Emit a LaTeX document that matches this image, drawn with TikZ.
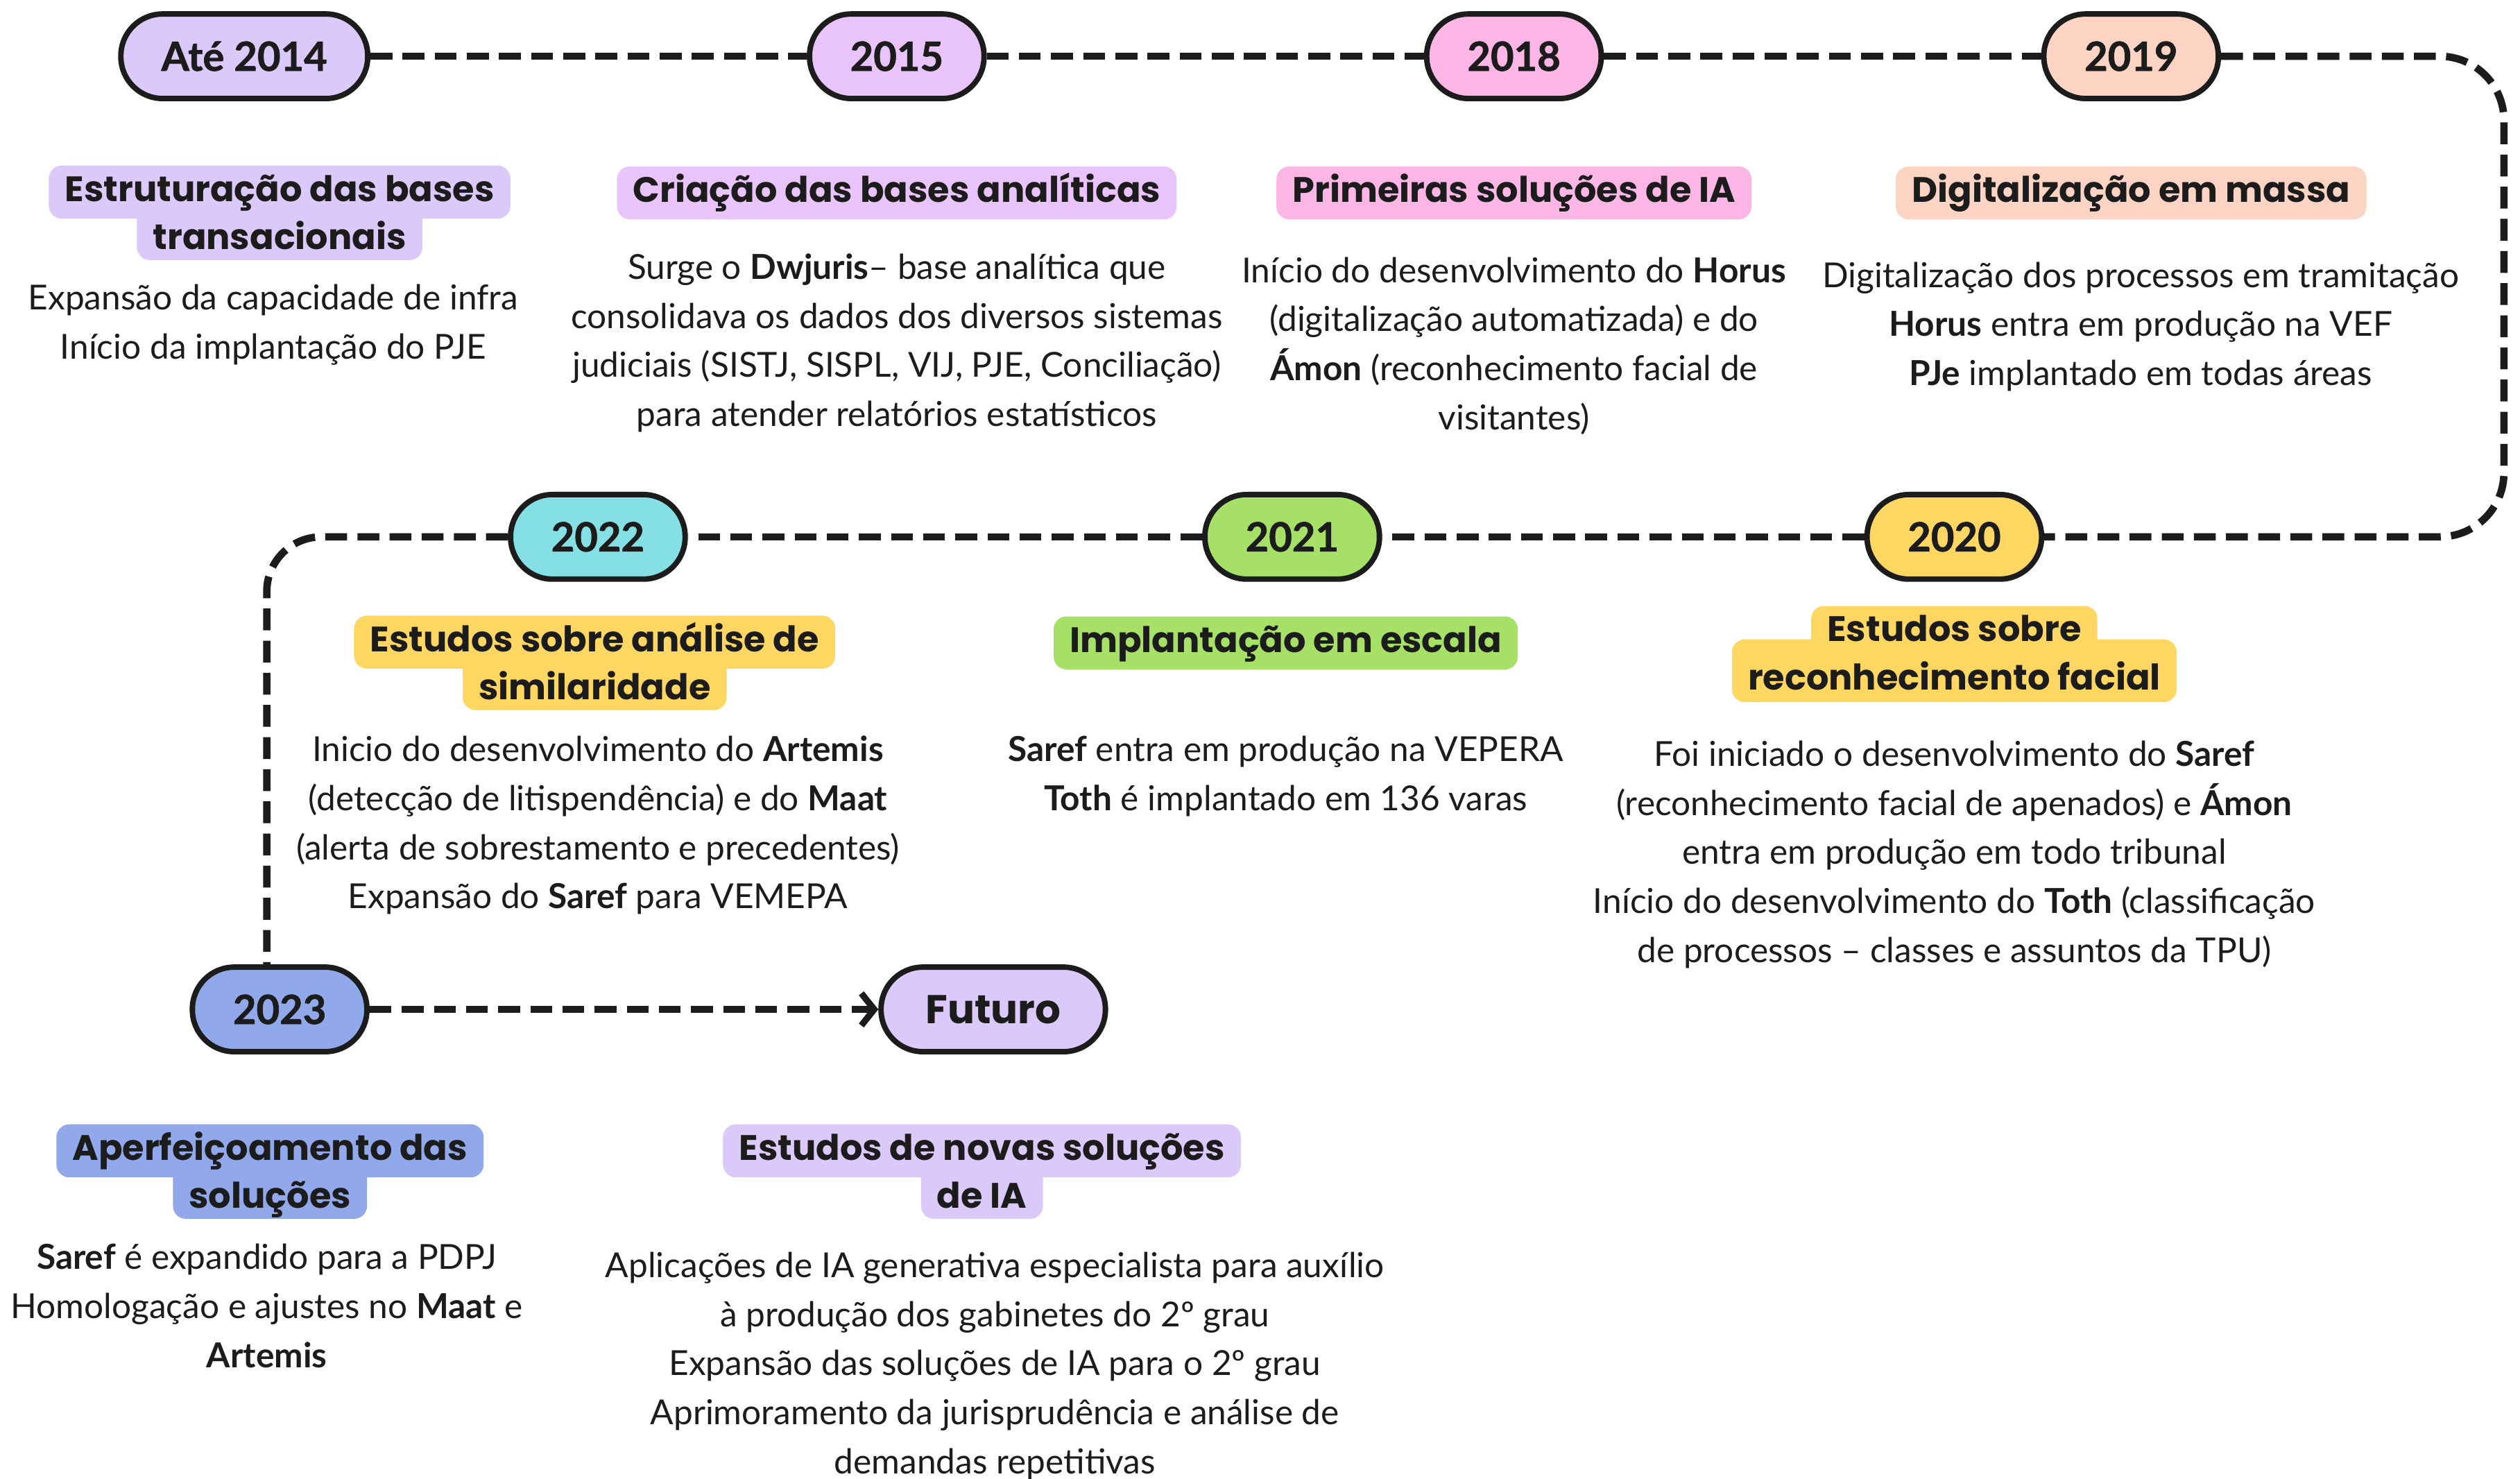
\documentclass[tikz,border=0pt]{standalone}
\usepackage{fontspec}
\setmainfont{Lato}
\newfontfamily\headfont{Poppins}
\newfontfamily\yearfont{Lato}[BoldFeatures={FakeBold=1.2}]
\usetikzlibrary{arrows.meta}
\pgfdeclarelayer{bg}
\pgfsetlayers{bg,main}
\definecolor{ink}{HTML}{1C1C1C}
\definecolor{clav}{HTML}{DBC9FA}
\definecolor{cpur}{HTML}{E9C4FA}
\definecolor{cpink}{HTML}{FBB6E6}
\definecolor{cpeach}{HTML}{FDD3C3}
\definecolor{ccyan}{HTML}{84E0E4}
\definecolor{cgreen}{HTML}{A6E066}
\definecolor{cyellow}{HTML}{FDD762}
\definecolor{cblue}{HTML}{91A9EA}
\begin{document}
\begin{tikzpicture}[x=0.5pt,y=-0.5pt,
  pill/.style={draw=ink, line width=1.7pt, fill=#1, rounded corners=13pt,
    minimum height=26.3pt, minimum width=54.3pt, inner sep=0pt, text=ink,
    font=\yearfont\fontsize{12.5}{14}\selectfont\bfseries},
  hl/.style={fill=#1, rounded corners=4pt, inner xsep=5pt, inner ysep=0pt,
    text height=8.2pt, text depth=2.4pt, minimum height=16.5pt, text=ink,
    font=\headfont\fontsize{11}{13}\selectfont\bfseries},
  hlb/.style={hl=#1, text height=14.2pt, minimum height=18.5pt, anchor=north, yshift=6pt},
  body/.style={align=center, inner sep=0pt, anchor=north, text=ink,
    font=\fontsize{10.7}{15.25}\selectfont},
  conn/.style={draw=ink, line width=2.3pt, dash pattern=on 6.8pt off 3.2pt},
]
\begin{pgfonlayer}{bg}
\fill[white] (0,0) rectangle (1568,920);
\end{pgfonlayer}
\useasboundingbox (0,0) rectangle (1568,920);

\coordinate (c1) at (1558,35);
\coordinate (c2) at (1558,334);
\coordinate (c3) at (166,334);

% year pills
\node[pill=clav, minimum width=76.8pt] (y2014) at (152,35) {Até 2014};
\node[pill=cpur] (y2015) at (558,35) {2015};
\node[pill=cpink] (y2018) at (942,35) {2018};
\node[pill=cpeach] (y2019) at (1326,35) {2019};
\node[pill=ccyan] (y2022) at (372,334) {2022};
\node[pill=cgreen] (y2021) at (804,334) {2021};
\node[pill=cyellow] (y2020) at (1216,334) {2020};
\node[pill=cblue] (y2023) at (174,628) {2023};
\node[pill=clav, minimum width=69.8pt, font=\headfont\fontsize{12.5}{14}\selectfont\bfseries] (fut) at (618,628) {Futuro};

% connectors
\draw[conn] (y2014.east) -- (y2015.west);
\draw[conn] (y2015.east) -- (y2018.west);
\draw[conn] (y2018.east) -- (y2019.west);
\draw[conn, rounded corners=20pt] (y2019.east) -- (c1) -- (c2) -- (y2020.east);
\draw[conn] (y2020.west) -- (y2021.east);
\draw[conn] (y2021.west) -- (y2022.east);
\draw[conn, rounded corners=17pt] (y2022.west) -- (c3) -- (c3 |- y2023.north);
\draw[conn, -{Straight Barb[length=4pt, width=10pt, line width=2pt]}] (y2023.east) -- (fut.west);

% headings
\node[hl=clav] (h1a) at (174,119.5) {Estruturação das bases};
\node[hl=cpur] (h2) at (558,120) {Criação das bases analíticas};
\node[hl=cpink] (h3) at (942,120) {Primeiras soluções de IA};
\node[hl=cpeach] (h4) at (1326,120) {Digitalização em massa};
\node[hl=cyellow] (h5a) at (370,399.5) {Estudos sobre análise de};
\node[hl=cgreen] (h6) at (800,400) {Implantação em escala};
\node[hl=cyellow, minimum height=16pt] (h7a) at (1216,393) {Estudos sobre};
\node[hl=cblue] (h8a) at (168,716) {Aperfeiçoamento das};
\node[hl=clav] (h9a) at (611,716) {Estudos de novas soluções};
\begin{pgfonlayer}{bg}
\node[hlb=clav] (h1b) at (h1a.south) {transacionais};
\node[hlb=cyellow] (h5b) at (h5a.south) {similaridade};
\node[hlb=cyellow, minimum height=19.5pt] (h7b) at (h7a.south) {reconhecimento facial};
\node[hlb=cblue] (h8b) at (h8a.south) {soluções};
\node[hlb=clav] (h9b) at (h9a.south) {de IA};
\end{pgfonlayer}

% body texts
\node[body] (b1) at (170,171) {\strut Expansão da capacidade de infra\\Início da implantação do PJE};
\node[body] (b2) at (558,152) {\strut Surge o \textbf{Dwjuris}– base analítica que\\consolidava os dados dos diversos sistemas\\judiciais (SISTJ, SISPL, VIJ, PJE, Conciliação)\\para atender relatórios estatísticos};
\node[body] (b3) at (942,154) {\strut Início do desenvolvimento do \textbf{Horus}\\(digitalização automatizada) e do\\\textbf{Ámon} (reconhecimento facial de\\visitantes)};
\node[body] (b4) at (1332,157) {\strut Digitalização dos processos em tramitação\\\textbf{Horus} entra em produção na VEF\\\textbf{PJe} implantado em todas áreas};
\node[body] (b5) at (372,452) {\strut Inicio do desenvolvimento do \textbf{Artemis}\\(detecção de litispendência) e do \textbf{Maat}\\(alerta de sobrestamento e precedentes)\\Expansão do \textbf{Saref} para VEMEPA};
\node[body] (b6) at (800,452) {\strut\textbf{Saref} entra em produção na VEPERA\\\textbf{Toth} é implantado em 136 varas};
\node[body] (b7) at (1216,455) {\strut Foi iniciado o desenvolvimento do \textbf{Saref}\\(reconhecimento facial de apenados) e \textbf{Ámon}\\entra em produção em todo tribunal\\Início do desenvolvimento do \textbf{Toth} (classificação\\de processos – classes e assuntos da TPU)};
\node[body] (b8) at (166,768) {\strut\textbf{Saref} é expandido para a PDPJ\\Homologação e ajustes no \textbf{Maat} e\\\textbf{Artemis}};
\node[body] (b9) at (619,773) {\strut Aplicações de IA generativa especialista para auxílio\\à produção dos gabinetes do 2º grau\\Expansão das soluções de IA para o 2º grau\\Aprimoramento da jurisprudência e análise de\\demandas repetitivas};
\end{tikzpicture}
\end{document}
